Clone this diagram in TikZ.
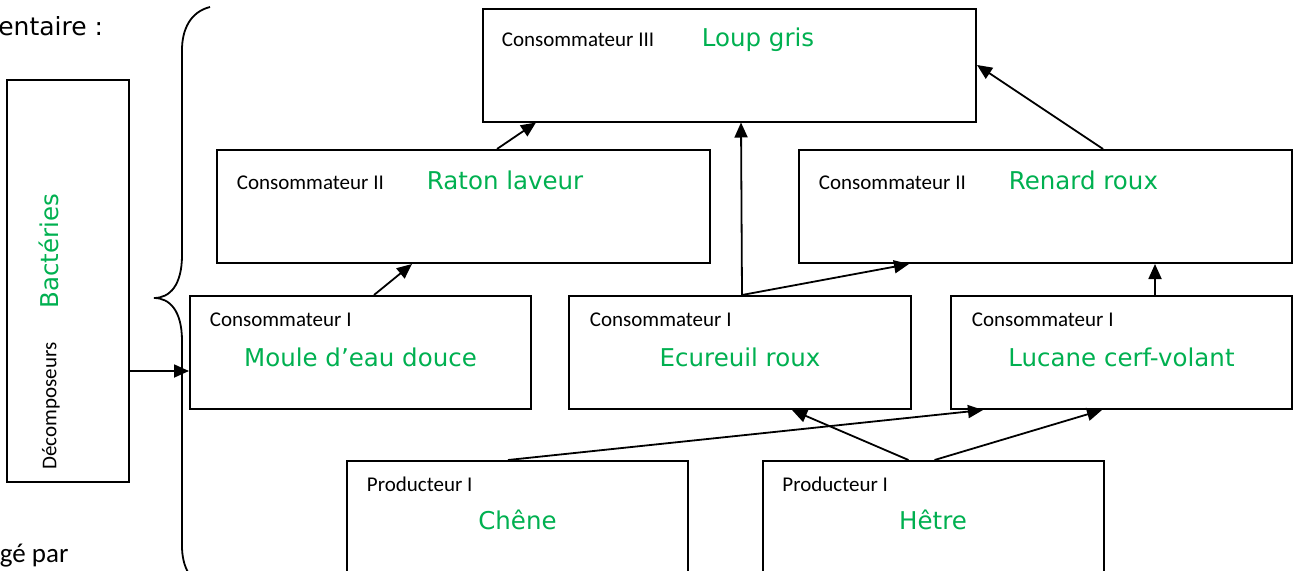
\documentclass[tikz,border=0pt]{standalone}
\usepackage{fontspec}
\setmainfont{Carlito}
\newfontfamily\comicfont{DejaVu Sans}
\usepackage{tikz}
\usetikzlibrary{arrows.meta}
\definecolor{leafgreen}{RGB}{0,176,80}

\begin{document}
\begin{tikzpicture}[x=1pt,y=-1pt,line width=1.8pt,>={Triangle[length=15pt,width=13pt]}]
  \tikzstyle{box}=[rectangle, draw, line width=2pt, inner sep=0pt, minimum height=113pt]
  \tikzstyle{wide}=[box, minimum width=493pt]
  \tikzstyle{narrow}=[box, minimum width=341pt]
  \tikzstyle{rank}=[inner sep=0pt, anchor=base west, font=\fontsize{21}{25}\selectfont]
  \tikzstyle{species}=[inner sep=0pt, anchor=base, text=leafgreen, font=\comicfont\fontsize{24.5}{28}\selectfont]
  \clip (0,0) rectangle (1300,570);
  \node[inner sep=0pt, anchor=base east, font=\comicfont\fontsize{25}{28}\selectfont] (titre) at (104,35) {entaire :};
  \node[inner sep=0pt, anchor=base west, font=\fontsize{27}{30}\selectfont] (source) at (-1,562) {gé par};
  \node[box, minimum width=122pt, minimum height=402pt] (decomp) at (68,281) {};
  \node[inner sep=0pt, rotate=90, font=\fontsize{21}{25}\selectfont] (decomp_t) at (51,406) {Décomposeurs};
  \node[inner sep=0pt, rotate=90, text=leafgreen, font=\comicfont\fontsize{24.5}{28}\selectfont] (decomp_n) at (49,251) {Bactéries};
  \node[wide] (loup) at (729.5,65) {};
  \node[wide] (raton) at (463.5,206.5) {};
  \node[wide] (renard) at (1045.5,206.5) {};
  \node[narrow] (moule) at (360.5,352.5) {};
  \node[narrow, minimum width=342pt] (ecureuil) at (740,352.5) {};
  \node[narrow] (lucane) at (1121.5,352.5) {};
  \node[narrow, minimum height=114pt] (chene) at (517.5,518) {};
  \node[narrow, minimum height=114pt] (hetre) at (933,518) {};
  \node[rank] (loup_t) at ([xshift=19pt,yshift=-39pt]loup.north west) {Consommateur III};
  \node[species, anchor=base west] (loup_n) at ([xshift=219pt,yshift=-39pt]loup.north west) {Loup gris};
  \node[rank] (raton_t) at ([xshift=20pt,yshift=-40pt]raton.north west) {Consommateur II};
  \node[species, anchor=base west] (raton_n) at ([xshift=210pt,yshift=-40pt]raton.north west) {Raton laveur};
  \node[rank] (renard_t) at ([xshift=20pt,yshift=-40pt]renard.north west) {Consommateur II};
  \node[species, anchor=base west] (renard_n) at ([xshift=210pt,yshift=-40pt]renard.north west) {Renard roux};
  \node[rank] (moule_t) at ([xshift=20pt,yshift=-31pt]moule.north west) {Consommateur I};
  \node[species] (moule_n) at ([yshift=-71pt]moule.north) {Moule d’eau douce};
  \node[rank] (ecureuil_t) at ([xshift=21pt,yshift=-31pt]ecureuil.north west) {Consommateur I};
  \node[species] (ecureuil_n) at ([yshift=-71pt]ecureuil.north) {Ecureuil roux};
  \node[rank] (lucane_t) at ([xshift=21pt,yshift=-31pt]lucane.north west) {Consommateur I};
  \node[species] (lucane_n) at ([yshift=-71pt]lucane.north) {Lucane cerf-volant};
  \node[rank] (chene_t) at ([xshift=20pt,yshift=-31pt]chene.north west) {Producteur I};
  \node[species] (chene_n) at ([yshift=-69pt]chene.north) {Chêne};
  \node[rank] (hetre_t) at ([xshift=20pt,yshift=-31pt]hetre.north west) {Producteur I};
  \node[species] (hetre_n) at ([yshift=-69pt]hetre.north) {Hêtre};
  \draw (210,7) .. controls (190,12) and (182,30) .. (182,50) -- (182,255)
    .. controls (182,285) and (170,298) .. (154,298)
    .. controls (170,298) and (182,311) .. (182,341) -- (182,546)
    .. controls (182,566) and (190,584) .. (210,589);
  \draw[->] ([yshift=-90pt]decomp.east) -- ([yshift=-18.5pt]moule.west);
  \draw[->] ([xshift=185pt]moule.north west) -- ([xshift=196pt]raton.south west);
  \draw[->] ([xshift=281pt]raton.north west) -- ([xshift=54pt]loup.south west);
  \draw[->] ([xshift=2pt]ecureuil.north) -- ([xshift=259pt]loup.south west);
  \draw[->] ([xshift=2pt]ecureuil.north) -- ([xshift=111pt]renard.south west);
  \draw[->] ([xshift=305pt]renard.north west) -- (loup.east);
  \draw[->] ([xshift=205pt]lucane.north west) -- ([xshift=357pt]renard.south west);
  \draw[->] ([xshift=162pt]chene.north west) -- ([xshift=33pt]lucane.south west);
  \draw[->] ([xshift=147pt]hetre.north west) -- ([xshift=224pt]ecureuil.south west);
  \draw[->] ([xshift=173pt]hetre.north west) -- ([xshift=152pt]lucane.south west);
\end{tikzpicture}
\end{document}
